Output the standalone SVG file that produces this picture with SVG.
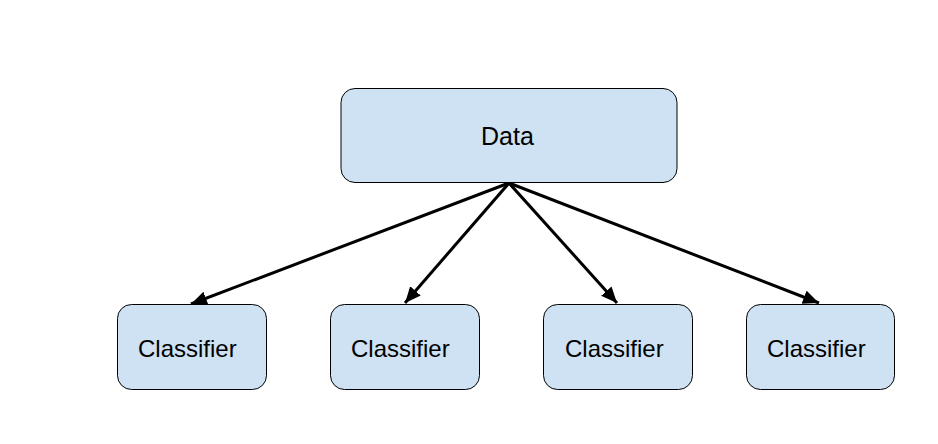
<svg xmlns="http://www.w3.org/2000/svg" width="938" height="444" viewBox="0 0 938 444">
<style>
.box{fill:#cfe2f3;stroke:#000;stroke-width:1}
.lbl{font-family:"Liberation Sans",Arial,sans-serif;fill:#000}
.edge{stroke:#000;stroke-width:3;fill:none}
</style>
<defs>
<marker id="ah" markerUnits="userSpaceOnUse" markerWidth="20" markerHeight="16" refX="16" refY="7" orient="auto">
<path d="M0,0 L16,7 L0,14 Z" fill="#000"/>
</marker>
</defs>
<rect width="938" height="444" fill="#fff"/>
<g id="connectors">
<line class="edge" x1="509" y1="183" x2="191" y2="304" marker-end="url(#ah)"/>
<line class="edge" x1="509" y1="183" x2="405" y2="303" marker-end="url(#ah)"/>
<line class="edge" x1="509" y1="183" x2="617" y2="303" marker-end="url(#ah)"/>
<line class="edge" x1="509" y1="183" x2="819" y2="303" marker-end="url(#ah)"/>
</g>
<g id="data">
<rect class="box" x="341" y="88.5" width="336" height="94" rx="14"/>
<text class="lbl" x="481" y="145" font-size="25">Data</text>
</g>
<g id="classifier1">
<rect class="box" x="117.5" y="304.5" width="149" height="85" rx="14"/>
<text class="lbl" x="138" y="357" font-size="24">Classifier</text>
</g>
<g id="classifier2">
<rect class="box" x="330.5" y="304.5" width="149" height="85" rx="14"/>
<text class="lbl" x="351" y="357" font-size="24">Classifier</text>
</g>
<g id="classifier3">
<rect class="box" x="543.5" y="304.5" width="149" height="85" rx="14"/>
<text class="lbl" x="565" y="357" font-size="24">Classifier</text>
</g>
<g id="classifier4">
<rect class="box" x="746.5" y="304.5" width="148" height="85" rx="14"/>
<text class="lbl" x="767" y="357" font-size="24">Classifier</text>
</g>
</svg>
